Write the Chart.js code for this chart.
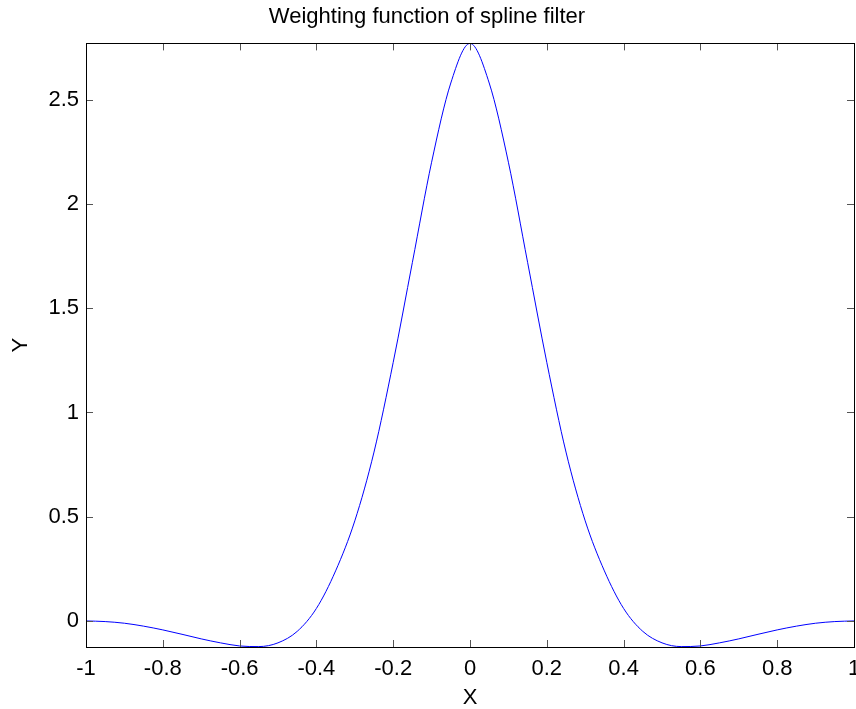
<!DOCTYPE html>
<html>
<head>
<meta charset="utf-8">
<script src="https://cdn.jsdelivr.net/npm/chart.js@4"></script>
<style>
  html, body { margin: 0; padding: 0; background: #fff; }
  #wrap { width: 856px; height: 709px; }
</style>
</head>
<body>
<div id="wrap"><canvas id="chart"></canvas></div>
<script>
// values
const xValues = [-1, -0.95, -0.9, -0.85, -0.8, -0.75, -0.7, -0.65, -0.6, -0.55, -0.5,
  -0.45, -0.4, -0.35, -0.3, -0.25, -0.2, -0.15, -0.1, -0.05, 0,
  0.05, 0.1, 0.15, 0.2, 0.25, 0.3, 0.35, 0.4, 0.45, 0.5,
  0.55, 0.6, 0.65, 0.7, 0.75, 0.8, 0.85, 0.9, 0.95, 1];
const yValues = [0, -0.003, -0.011, -0.025, -0.043, -0.064, -0.086, -0.105, -0.12, -0.123, -0.105,
  -0.05, 0.06, 0.24, 0.48, 0.81, 1.24, 1.72, 2.2, 2.58, 2.77,
  2.58, 2.2, 1.72, 1.24, 0.81, 0.48, 0.24, 0.06, -0.05, -0.105,
  -0.123, -0.12, -0.105, -0.086, -0.064, -0.043, -0.025, -0.011, -0.003, 0];
const xTicks = [-1, -0.8, -0.6, -0.4, -0.2, 0, 0.2, 0.4, 0.6, 0.8, 1];
const yTicks = [0, 0.5, 1, 1.5, 2, 2.5];

const font = "'Liberation Sans', Arial, sans-serif";

// matlab style box with inward tick marks
const boxTicks = {
  id: 'boxTicks',
  afterDraw(chart) {
    const ctx = chart.ctx;
    const a = chart.chartArea;
    const xs = chart.scales.x, ys = chart.scales.y;
    ctx.save();
    ctx.strokeStyle = '#555';
    ctx.lineWidth = 1;
    ctx.beginPath();
    xTicks.forEach(v => {
      const px = Math.round(xs.getPixelForValue(v)) + 0.5;
      ctx.moveTo(px, a.bottom); ctx.lineTo(px, a.bottom - 7);
      ctx.moveTo(px, a.top); ctx.lineTo(px, a.top + 7);
    });
    yTicks.forEach(v => {
      const py = Math.round(ys.getPixelForValue(v)) + 0.5;
      ctx.moveTo(a.left, py); ctx.lineTo(a.left + 7, py);
      ctx.moveTo(a.right, py); ctx.lineTo(a.right - 7, py);
    });
    ctx.stroke();
    ctx.strokeStyle = '#000';
    ctx.strokeRect(Math.round(a.left) + 0.5, Math.round(a.top) + 0.5,
      Math.round(a.right - a.left), Math.round(a.bottom - a.top));
    ctx.restore();
  }
};

new Chart(document.getElementById('chart'), {
  type: 'line',
  data: {
    datasets: [{
      data: xValues.map((x, i) => ({ x: x, y: yValues[i] })),
      borderColor: '#0000ff',
      borderWidth: 1,
      pointRadius: 0,
      cubicInterpolationMode: 'monotone',
      fill: false
    }]
  },
  options: {
    responsive: true,
    maintainAspectRatio: false,
    animation: false,
    layout: { padding: { left: 0, right: 2, top: 0, bottom: 0 } },
    plugins: {
      legend: { display: false },
      tooltip: { enabled: false },
      title: {
        display: true,
        text: 'Weighting function of spline filter',
        color: '#000',
        font: { family: font, size: 22, weight: 'normal', lineHeight: 1.2 },
        padding: { top: 4, bottom: 13 }
      }
    },
    scales: {
      x: {
        type: 'linear',
        min: -1, max: 1,
        afterBuildTicks: s => { s.ticks = xTicks.map(v => ({ value: v })); },
        afterFit: s => { s.height = 62; s.paddingLeft = 0; s.paddingRight = 0; },
        grid: { display: false, drawTicks: false },
        border: { display: false },
        ticks: {
          color: '#000', padding: 9, maxRotation: 0, autoSkip: false,
          font: { family: font, size: 22 },
          callback: v => String(v)
        },
        title: {
          display: true, text: 'X', color: '#000',
          font: { family: font, size: 22, lineHeight: 1 },
          padding: { top: 0, bottom: 0 }
        }
      },
      y: {
        min: -0.125, max: 2.77,
        afterBuildTicks: s => { s.ticks = yTicks.map(v => ({ value: v })); },
        afterFit: s => { s.width = 86; s.paddingTop = 0; s.paddingBottom = 0; },
        grid: { display: false, drawTicks: false },
        border: { display: false },
        ticks: {
          color: '#000', padding: 7, autoSkip: false,
          font: { family: font, size: 22 },
          callback: v => String(v)
        },
        title: {
          display: true, text: 'Y', color: '#000',
          font: { family: font, size: 22, lineHeight: 1 },
          padding: { top: 10, bottom: 0 }
        }
      }
    }
  },
  plugins: [boxTicks]
});
</script>
</body>
</html>
